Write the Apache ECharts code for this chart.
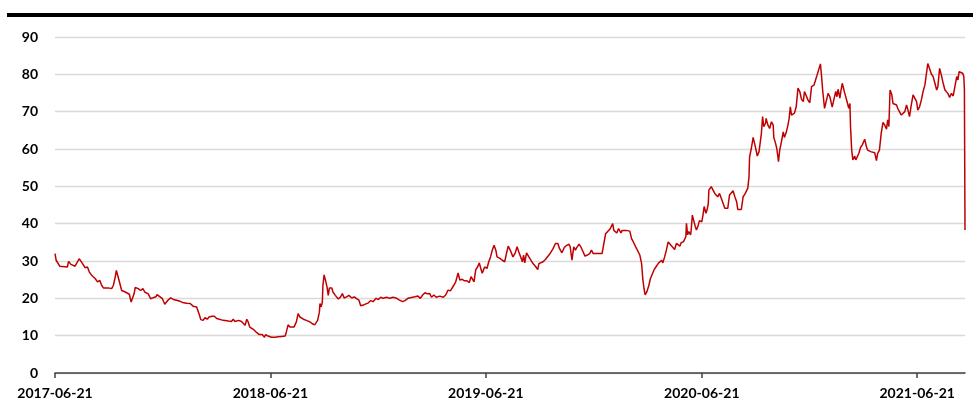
<!DOCTYPE html>
<html><head><meta charset="utf-8">
<script src="https://cdn.jsdelivr.net/npm/echarts@6/dist/echarts.min.js"></script>
<style>html,body{margin:0;padding:0;background:#fff}#c{width:977px;height:417px}</style>
</head><body><div id="c"></div>
<script>
// x values: days since 2017-06-21
const startDate = '2017-06-21';
const tickLabels = ['2017-06-21','2018-06-21','2019-06-21','2020-06-21','2021-06-21'];
const lastDay = 1542;

const dayOffsets = [
0,2,8,21,23,27,34,37,41,45,51,55,58,62,65,68,72,76,79,82,90,96,99,102,104,107,110,113,119,122,126,129,132,134,136,141,145,149,152,155,158,162,167,171,173,178,182,186,189,192,196,202,206,212,216,223,229,234,240,243,245,247,251,254,258,261,
266,270,274,277,285,294,299,302,305,311,316,319,322,325,327,330,336,342,346,351,355,357,361,367,373,378,384,390,392,395,398,401,405,409,412,415,421,426,432,436,440,445,448,449,451,453,454,456,459,461,463,465,469,471,475,480,484,487,490,494,498,503,507,511,515,518,521,524,
527,531,535,539,544,548,552,556,562,567,573,579,583,589,593,598,604,610,615,619,623,627,631,635,638,642,646,652,658,662,666,670,675,679,683,686,690,694,698,702,705,707,710,713,716,719,722,724,728,732,735,738,741,744,747,749,754,758,762,765,768,772,776,780,783,786,
789,792,794,796,799,803,806,810,814,818,820,823,827,831,834,838,841,844,848,852,855,859,863,867,871,873,876,879,882,884,888,891,895,898,902,906,909,912,915,920,927,930,933,937,941,945,947,950,952,955,959,961,964,968,974,977,980,984,987,991,994,996,998,1000,1003,1006,1009,1012,1015,1019,1023,1028,1030,1033,1036,1039,1042,1046,1049,
1050,1053,1056,1059,1061,1065,1069,1070,1072,1074,1077,1078,1080,1082,1085,1087,1090,1092,1096,1098,1100,1103,1105,1107,1108,1112,1115,1118,1121,1123,1126,1129,1132,1135,1138,1140,1143,1146,1149,1152,1155,1157,1160,1163,1166,1169,1172,1174,1176,1177,1180,1183,1186,1188,1190,1193,1195,1197,1199,1201,1204,1205,1208,1211,1214,1217,1218,1221,1223,1226,1228,1231,1234,1236,1239,1242,1244,1246,1248,1251,1253,1256,1259,1262,1265,1268,1270,1273,1276,1279,1282,1286,1289,1291,1294,1297,1299,1301,1304,1307,1310,1313,
1317,1319,1323,1325,1327,1330,1332,1334,1336,1338,1341,1343,1345,1347,1348,1350,1352,1355,1357,1359,1362,1365,1368,1370,1372,1375,1377,1379,1382,1385,1389,1392,1394,1397,1400,1403,1406,1409,1411,1413,1415,1418,1420,1423,1426,1428,1431,1434,1437,1440,1443,1445,1448,1451,1454,1457,1460,1462,1465,1468,1471,1474,1477,1479,1482,1485,1488,1491,1494,1496,1499,1502,1505,1508,1511,1513,1516,1519,1522,1525,1528,1530,1532,1534,1538,1540,1541,1542
];

const values = [
32.0,30.2,28.6,28.4,29.9,29.1,28.6,29.1,30.6,29.7,28.2,28.4,27.1,26.2,26.6,25.3,24.4,24.8,23.5,22.8,22.8,22.6,23.5,25.7,27.5,25.7,23.9,22.1,21.7,22.0,21.1,19.0,19.5,21.2,22.9,22.6,22.1,22.6,21.7,22.1,21.2,19.9,20.2,20.4,21.0,20.4,19.9,18.4,18.1,19.6,20.1,19.6,19.5,19.2,18.9,18.7,18.6,17.9,17.7,17.7,15.4,14.3,14.1,14.8,14.4,15.0,
15.2,15.2,14.6,14.1,14.1,13.9,13.8,14.4,13.8,14.1,13.8,14.1,12.8,14.4,13.8,12.3,11.7,10.8,10.3,10.3,9.6,10.3,9.9,9.6,9.6,9.7,9.8,9.9,11.0,12.9,12.3,11.9,12.3,13.7,15.9,15.0,14.4,14.1,13.7,13.2,12.9,14.1,16.3,18.6,17.7,19.0,23.5,26.3,24.4,23.0,20.8,22.8,22.8,21.7,20.8,19.8,20.4,21.3,20.1,20.4,20.8,20.1,20.4,19.9,19.5,18.0,18.1,18.3,
18.5,18.8,19.4,19.1,20.0,19.7,20.3,20.0,20.3,20.0,20.3,20.0,19.6,19.1,19.4,20.0,20.2,20.4,20.6,20.0,20.9,21.5,21.2,21.3,20.3,20.9,20.3,20.6,20.3,20.9,22.2,22.0,23.3,24.4,26.8,24.9,25.1,24.7,24.7,24.2,25.8,26.2,24.4,27.7,28.4,29.5,27.7,26.7,28.4,28.0,29.8,31.1,32.9,34.2,32.9,31.1,30.7,30.2,29.8,32.0,34.0,32.7,31.1,32.2,33.8,32.4,
32.0,29.8,31.6,29.5,32.2,31.1,31.1,29.3,28.6,27.7,29.3,28.9,29.8,30.4,30.2,31.8,32.0,33.3,34.7,34.7,33.3,32.2,33.6,34.2,34.5,33.8,30.2,33.8,32.9,33.6,34.5,33.8,32.4,31.3,31.6,32.0,32.9,32.0,32.2,32.0,32.0,32.0,37.3,38.0,38.7,40.0,38.2,38.7,37.5,38.7,37.5,38.2,37.8,38.2,38.0,36.0,35.1,33.8,33.3,31.6,29.3,25.3,22.7,20.9,21.8,23.3,25.3,24.9,27.6,28.6,29.5,30.2,29.5,31.1,32.9,35.1,34.7,33.8,33.3,
33.1,34.7,35.2,34.0,34.9,35.2,36.5,40.1,37.0,37.9,37.0,38.3,42.3,41.0,39.2,38.3,39.6,40.8,40.5,42.3,44.6,42.8,43.7,45.4,49.0,49.9,49.7,48.1,48.6,47.2,48.1,46.8,46.8,44.1,44.6,44.1,47.7,47.7,48.8,47.2,45.9,43.8,44.1,43.8,47.2,47.9,47.6,49.5,52.6,57.9,60.2,63.1,61.1,59.7,58.1,59.3,58.8,64.2,68.7,66.0,66.9,68.2,66.4,65.5,67.3,66.4,63.1,61.5,60.2,56.6,59.7,62.0,64.6,63.1,64.4,66.4,68.2,71.3,69.1,68.7,69.6,71.3,76.3,75.4,73.3,72.7,75.4,74.9,73.1,72.4,76.7,77.1,77.6,79.6,81.2,82.8,79.4,75.4,70.9,70.6,74.9,74.0,
71.2,72.7,75.4,74.0,76.0,73.6,75.8,77.6,78.0,75.1,74.9,72.2,70.9,72.2,66.0,59.7,57.1,58.1,57.1,57.5,58.8,60.4,61.1,60.6,62.6,60.6,59.7,59.9,59.3,59.7,59.0,56.9,58.8,59.7,64.2,67.1,66.4,65.3,67.8,66.0,75.8,74.5,72.2,72.7,71.8,70.9,70.4,69.1,68.7,70.0,71.8,70.6,68.7,71.8,74.5,74.9,72.7,70.4,71.3,73.1,75.4,77.1,77.6,82.9,83.1,80.1,79.4,77.6,75.8,76.7,81.6,79.8,77.6,75.8,75.4,74.9,73.8,74.9,74.2,74.5,79.4,78.5,80.7,81.0,80.3,79.4,75.8,38.3
];

const DAY = 86400000;
const t0 = Date.parse(startDate);
const tickDays = tickLabels.map(s => Math.round((Date.parse(s) - t0) / DAY));
const seriesData = dayOffsets.map((d, i) => [d, values[i]]);

const chart = echarts.init(document.getElementById('c'), null, {renderer: 'canvas'});
chart.setOption({
  animation: false,
  backgroundColor: '#fff',
  grid: {left: 55, right: 12, top: 37, bottom: 44, containLabel: false},
  graphic: [{type: 'rect', shape: {x: 7, y: 13, width: 966, height: 4}, style: {fill: '#000'}, silent: true}],
  xAxis: {
    type: 'value', min: 0, max: lastDay,
    axisLine: {show: true, onZero: true, lineStyle: {color: '#404040', width: 1.5}},
    axisTick: {show: true, customValues: tickDays, length: 5, lineStyle: {color: '#404040', width: 1.5}},
    axisLabel: {customValues: tickDays, margin: 13, color: '#000', fontFamily: 'Lato', fontWeight: 'bold', fontSize: 14,
      formatter: v => { const i = tickDays.indexOf(Math.round(v)); return i >= 0 ? tickLabels[i] : ''; }},
    splitLine: {show: false}
  },
  yAxis: {
    type: 'value', min: 0, max: 90, interval: 10,
    axisLine: {show: false}, axisTick: {show: false},
    axisLabel: {margin: 17, color: '#000', fontFamily: 'Lato', fontWeight: 'bold', fontSize: 14},
    splitLine: {lineStyle: {color: '#d9d9d9', width: 1.3}}
  },
  series: [{
    type: 'line', data: seriesData, showSymbol: false, symbol: 'none',
    lineStyle: {color: '#C00000', width: 1.5}, z: 3
  }]
});
</script>
</body></html>
